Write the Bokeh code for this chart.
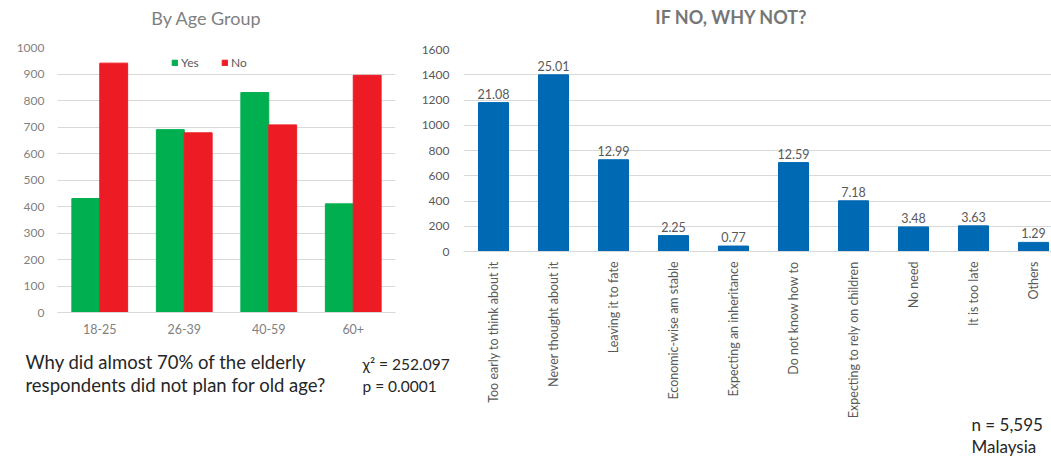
import math

from bokeh.plotting import figure
from bokeh.models import (Range1d, FactorRange, FixedTicker, Legend, LegendItem,
                          LabelSet, Label, ColumnDataSource)
from bokeh.core.properties import value
from bokeh.transform import dodge
from bokeh.embed import file_html
from bokeh.resources import INLINE

# ---- data -------------------------------------------------------------
age_groups = ["18-25", "26-39", "40-59", "60+"]
yes_counts = [430, 690, 830, 410]
no_counts = [941, 678, 708, 895]

reasons = [
    "Too early to think about it",
    "Never thought about it",
    "Leaving it to fate",
    "Economic-wise am stable",
    "Expecting an inheritance",
    "Do not know how to",
    "Expecting to rely on children",
    "No need",
    "It is too late",
    "Others",
]
reason_pct = [21.08, 25.01, 12.99, 2.25, 0.77, 12.59, 7.18, 3.48, 3.63, 1.29]
n_total = 5595

age_ticks = list(range(0, 1001, 100))
reason_ticks = list(range(0, 1601, 200))

# ---- style ------------------------------------------------------------
W, H = 1051, 459
FONT = "Lato"
GREEN = "#00b050"
RED = "#ed1c24"
BLUE = "#0069b4"
GRID = "#d9d9d9"
# every layer is pinned to the page's top-left corner so they stack
PINNED = {"position": "absolute", "left": "0px", "top": "0px"}


def base_figure(**kw):
    p = figure(width=W, height=H, output_backend="svg", toolbar_location=None,
               title=None, **kw)
    p.styles = PINNED
    p.outline_line_color = None
    p.xgrid.grid_line_color = None
    p.ygrid.grid_line_color = GRID
    for ax in p.axis:
        ax.major_tick_line_color = None
        ax.major_tick_out = 0
        ax.major_tick_in = 0
        ax.minor_tick_line_color = None
        ax.minor_tick_out = 0
        ax.major_label_text_font = FONT
        ax.major_label_text_font_size = "12px"
    p.yaxis.axis_line_color = None
    p.xaxis.axis_line_color = GRID
    return p


# ---- left chart: by age group -----------------------------------------
left = base_figure(x_range=FactorRange(factors=age_groups), y_range=Range1d(0, 1000),
                   min_border_left=57, min_border_right=W - 395,
                   min_border_top=47, min_border_bottom=H - 312)
src_age = ColumnDataSource(dict(age=age_groups, yes=yes_counts, no=no_counts))
r_yes = left.vbar(x=dodge("age", -0.165, range=left.x_range), top="yes", width=0.33,
                  source=src_age, fill_color=GREEN, line_color=GREEN)
r_no = left.vbar(x=dodge("age", 0.165, range=left.x_range), top="no", width=0.33,
                 source=src_age, fill_color=RED, line_color=RED)
left.yaxis.ticker = FixedTicker(ticks=age_ticks)
left.yaxis.major_label_standoff = 13
left.xaxis.major_label_standoff = 11
left.xaxis.major_label_text_font_size = "12.5px"
left.axis.major_label_text_color = "#7f7f7f"

legend = Legend(items=[LegendItem(label="Yes", renderers=[r_yes]),
                       LegendItem(label="No", renderers=[r_no])],
                orientation="horizontal", location=(114, 242),
                border_line_color=None, background_fill_alpha=0,
                glyph_width=7, glyph_height=7, label_standoff=3, spacing=20,
                padding=0, margin=0, label_height=12,
                label_text_font=FONT, label_text_font_size="12px",
                label_text_color="#595959")
left.add_layout(legend)

# ---- right chart: reasons for not planning ----------------------------
right = base_figure(x_range=Range1d(-0.5, 9.3), y_range=Range1d(0, 1600),
                    min_border_left=463, min_border_right=0,
                    min_border_top=49, min_border_bottom=H - 251)
right.background_fill_alpha = 0
right.border_fill_alpha = 0
idx = list(range(len(reasons)))
counts = [p * n_total / 100 for p in reason_pct]
src_r = ColumnDataSource(dict(idx=idx, count=counts,
                              pct=[f"{p:.2f}" for p in reason_pct]))
right.vbar(x="idx", top="count", width=0.5, source=src_r,
           fill_color=BLUE, line_color=BLUE)
right.add_layout(LabelSet(x="idx", y="count", text="pct", source=src_r,
                          y_offset=4, text_align="center", text_baseline="alphabetic",
                          text_font=value(FONT), text_font_size="12.5px",
                          text_color="#595959"))
right.yaxis.ticker = FixedTicker(ticks=reason_ticks)
right.yaxis.major_label_standoff = 14
right.xaxis.ticker = FixedTicker(ticks=idx)
right.xaxis.major_label_overrides = {i: r for i, r in zip(idx, reasons)}
right.xaxis.major_label_orientation = math.pi / 2
right.xaxis.major_label_standoff = 10
right.xaxis.major_label_text_font_size = "12.5px"
right.axis.major_label_text_color = "#595959"

# ---- text layer in page pixel coordinates -----------------------------
overlay = figure(width=W, height=H, x_range=Range1d(0, W), y_range=Range1d(H, 0),
                 output_backend="svg", toolbar_location=None, title=None,
                 x_axis_location=None, y_axis_location=None, min_border=0)
overlay.styles = PINNED
overlay.grid.visible = False
overlay.outline_line_color = None
overlay.background_fill_alpha = 0
overlay.border_fill_alpha = 0


def note(x, base, text, size, color="#262626", align="left", style="normal"):
    # `base` is the wanted baseline; Bokeh anchors the label a bit lower,
    # so lift it by a share of the font size
    overlay.add_layout(Label(x=x, y=base - 0.45 * size, text=text, text_font=FONT,
                             text_font_size=f"{size}px", text_color=color,
                             text_align=align, text_baseline="alphabetic",
                             text_font_style=style))


note(206, 26, "By Age Group", 18, "#7f7f7f", "center")
note(731, 25, "IF NO, WHY NOT?", 18, "#767676", "center", "bold")
note(25, 370, "Why did almost 70% of the elderly", 18.5)
note(25, 392.5, "respondents did not plan for old age?", 18.5)
note(362, 370, "\u03c7\u00b2 = 252.097", 15.5)
note(362, 392.5, "p = 0.0001", 15.5)
note(971, 432, f"n = {n_total:,}", 17)
note(971, 454, "Malaysia", 17)

open("out.html", "w").write(file_html([left, right, overlay], INLINE))
